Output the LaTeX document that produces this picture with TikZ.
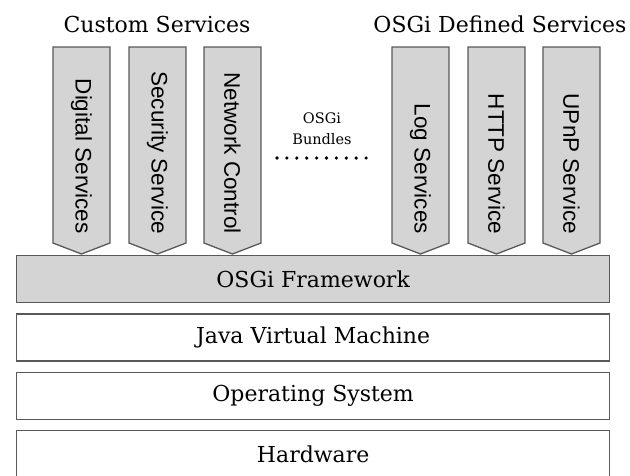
\documentclass[tikz,border=0pt]{standalone}
\usepackage{fontspec}
\setmainfont{DejaVu Serif}
\setsansfont{Liberation Sans}
\usetikzlibrary{positioning}

\tikzset{
  layer/.style={draw=black!65,line width=1.3pt,minimum width=593pt,minimum height=47pt,
    inner sep=0pt,font=\fontsize{22}{24}\selectfont},
  bundle/.style={draw=black!65,line width=1.3pt,fill=black!17},
  bundletext/.style={rotate=-90,anchor=east,inner sep=0pt,font=\sffamily\fontsize{22.5}{24}\selectfont},
  title/.style={font=\fontsize{22}{24}\selectfont,inner sep=0pt}
}

\begin{document}
\begin{tikzpicture}[x=1pt,y=-1pt]
\useasboundingbox (0,0) rectangle (630,475);

\node [title] (custom) at (157,24) {Custom Services};
\node [title] (defined) at (500,24) {OSGi Defined Services};

% bundles
\foreach \x/\name/\lbl in {53/Digital Services/dig,129/Security Service/sec,204/Network Control/net,
                            392/Log Services/log,468/HTTP Service/http,543/UPnP Service/upnp}{
  \draw [bundle] (\x,47) -- (\x+57,47) -- (\x+57,243) -- (\x+28.5,254) -- (\x,243) -- cycle;
  \node [bundletext] (\lbl) at (\x+28.5,234) {\name};
}

\node [font=\fontsize{14.5}{21}\selectfont,align=center,inner sep=0pt] (osgi) at (322,129) {OSGi\\Bundles};
\foreach \i in {0,...,9}
  \fill (277+\i*9.9,158) circle (1.8);

% layers
\node [layer,fill=black!17,anchor=north west] (fw) at (16,255) {OSGi Framework};
\node [layer,below=10pt of fw] (jvm) {Java Virtual Machine};
\node [layer,below=10pt of jvm] (os) {Operating System};
\node [layer,below=10pt of os] (hw) {Hardware};
\end{tikzpicture}
\end{document}
